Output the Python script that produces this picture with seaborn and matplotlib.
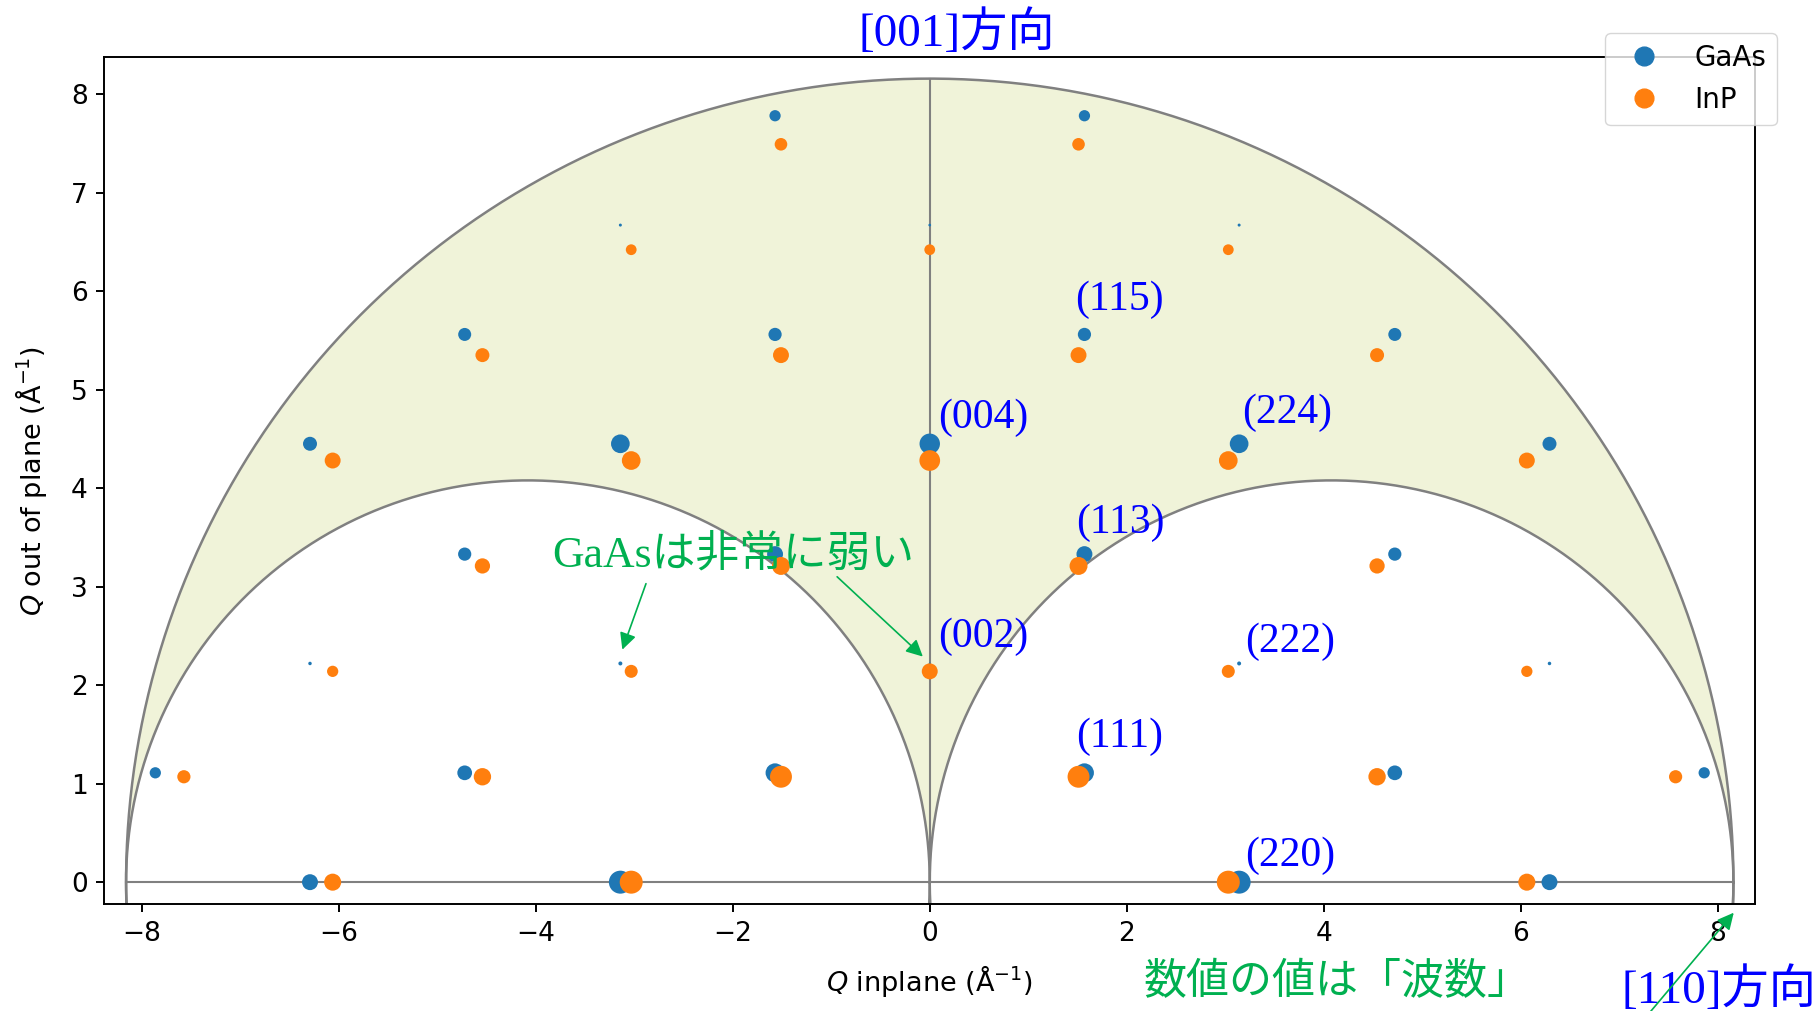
import numpy as np
import pandas as pd
import matplotlib
matplotlib.use("Agg")
import matplotlib.pyplot as plt
from matplotlib.lines import Line2D
import seaborn as sns

# hhl reflections ordered by h = -5..5, then l ascending
# Q inplane / Q out of plane in 1/Å, relative intensity (GaAs 220 = 100)
gaas_qx = [-7.86,
           -6.29, -6.29, -6.29,
           -4.72, -4.72, -4.72,
           -3.14, -3.14, -3.14, -3.14,
           -1.57, -1.57, -1.57, -1.57,
           0.00, 0.00, 0.00,
           1.57, 1.57, 1.57, 1.57,
           3.14, 3.14, 3.14, 3.14,
           4.72, 4.72, 4.72,
           6.29, 6.29, 6.29,
           7.86]
gaas_qz = [1.11,
           0.00, 2.22, 4.45,
           1.11, 3.33, 5.56,
           0.00, 2.22, 4.45, 6.67,
           1.11, 3.33, 5.56, 7.78,
           2.22, 4.45, 6.67,
           1.11, 3.33, 5.56, 7.78,
           0.00, 2.22, 4.45, 6.67,
           1.11, 3.33, 5.56,
           0.00, 2.22, 4.45,
           1.11]
gaas_int = [24,
            48, 2.3, 37,
            41, 33, 32,
            100, 3.0, 66, 1.7,
            68, 48, 33, 24,
            0.8, 79, 1.4,
            68, 48, 33, 24,
            100, 3.0, 66, 1.7,
            41, 33, 32,
            48, 2.3, 37,
            24]

inp_qx = [-7.57,
          -6.06, -6.06, -6.06,
          -4.54, -4.54, -4.54,
          -3.03, -3.03, -3.03, -3.03,
          -1.51, -1.51, -1.51, -1.51,
          0.00, 0.00, 0.00,
          1.51, 1.51, 1.51, 1.51,
          3.03, 3.03, 3.03, 3.03,
          4.54, 4.54, 4.54,
          6.06, 6.06, 6.06,
          7.57]
inp_qz = [1.07,
          0.00, 2.14, 4.28,
          1.07, 3.21, 5.35,
          0.00, 2.14, 4.28, 6.42,
          1.07, 3.21, 5.35, 7.49,
          2.14, 4.28, 6.42,
          1.07, 3.21, 5.35, 7.49,
          0.00, 2.14, 4.28, 6.42,
          1.07, 3.21, 5.35,
          0.00, 2.14, 4.28,
          1.07]
inp_int = [33,
           55, 24, 48,
           57, 44, 37,
           100, 32, 66, 22,
           91, 61, 48, 30,
           48, 81, 22,
           91, 61, 48, 30,
           100, 32, 66, 22,
           57, 44, 37,
           55, 24, 48,
           33]

materials = ["GaAs", "InP"]
colors = {"GaAs": "#1f77b4", "InP": "#ff7f0e"}

# X-ray wavelength (Cu Kα1) defining the accessible region
wavelength = 1.5406
k0 = 2 * np.pi / wavelength

hkl_labels = ["(115)", "(004)", "(224)", "(113)", "(002)", "(222)", "(111)", "(220)"]
hkl_pos = [(1.48, 5.91), (0.09, 4.71), (3.17, 4.77), (1.49, 3.65),
           (0.09, 2.49), (3.20, 2.44), (1.49, 1.48), (3.20, 0.27)]

df = pd.concat([
    pd.DataFrame({"qx": gaas_qx, "qz": gaas_qz, "I": gaas_int, "material": "GaAs"}),
    pd.DataFrame({"qx": inp_qx, "qz": inp_qz, "I": inp_int, "material": "InP"}),
], ignore_index=True)

plt.rcParams.update({
    "font.family": ["DejaVu Sans"],
    "font.size": 19,
    "axes.linewidth": 1.4,
    "xtick.major.size": 6,
    "ytick.major.size": 6,
    "xtick.major.width": 1.4,
    "ytick.major.width": 1.4,
    "xtick.major.pad": 6,
    "ytick.major.pad": 6,
    "mathtext.fontset": "dejavusans",
})

fig = plt.figure(figsize=(18.2, 10.11), dpi=100)
ax = fig.add_axes([0.0574, 0.1058, 0.9069, 0.8378])

# accessible region: inside 2k0 circle, outside both k0 circles
xs = np.linspace(-2 * k0, 2 * k0, 2001)
upper = np.sqrt(np.clip((2 * k0) ** 2 - xs ** 2, 0, None))
lower = np.sqrt(np.clip(k0 ** 2 - (np.abs(xs) - k0) ** 2, 0, None))
ax.fill_between(xs, lower, upper, color="#f0f3d9", lw=0, zorder=0)

t = np.linspace(0, 2 * np.pi, 1000)
line_kw = dict(color="gray", lw=1.8, zorder=1)
ax.plot(2 * k0 * np.cos(t), 2 * k0 * np.sin(t), **line_kw)
ax.plot(k0 + k0 * np.cos(t), k0 * np.sin(t), **line_kw)
ax.plot(-k0 + k0 * np.cos(t), k0 * np.sin(t), **line_kw)
ax.plot([-2 * k0, 2 * k0], [0, 0], color="gray", lw=1.5, zorder=1)
ax.plot([0, 0], [0, 2 * k0], color="gray", lw=1.5, zorder=1)

sns.scatterplot(data=df, x="qx", y="qz", hue="material", palette=colors,
                size="I", sizes=(0, 274), size_norm=(0, 100),
                linewidth=0, edgecolor="none", legend=False, ax=ax, zorder=3)

ax.set_xlim(-8.376, 8.376)
ax.set_ylim(-0.222, 8.376)
ax.set_xticks(np.arange(-8, 9, 2))
ax.set_yticks(np.arange(0, 9, 1))
ax.set_xlabel(r"$Q$ inplane (Å$^{-1}$)", fontsize=19.5, labelpad=12)
ax.set_ylabel(r"$Q$ out of plane (Å$^{-1}$)", fontsize=19.5, labelpad=16)
ax.tick_params(labelsize=19)

handles = [Line2D([], [], ls="", marker="o", markersize=13.5, color=colors[m]) for m in materials]
ax.legend(handles, materials, loc="upper right", fontsize=20,
          bbox_to_anchor=(1777 / 1820, 1 - 33 / 1011), bbox_transform=fig.transFigure,
          borderaxespad=0)

serif_jp = ["Liberation Serif", "Noto Sans CJK JP"]
blue = "#0000ff"
green = "#00b050"

for lab, (x, y) in zip(hkl_labels, hkl_pos):
    ax.text(x, y, lab, color=blue, fontsize=30, family=serif_jp, ha="left", va="center", zorder=5)

ax.text(-0.72, 8.62, "[001]方向", color=blue, fontsize=34, family=serif_jp,
        ha="left", va="center", clip_on=False)
ax.text(7.02, -1.10, "[110]方向", color=blue, fontsize=34, family=serif_jp,
        ha="left", va="center", clip_on=False)
ax.text(-3.83, 3.32, "GaAsは非常に弱い", color=green, fontsize=31.5, family=serif_jp,
        ha="left", va="center", zorder=5)
ax.text(2.17, -1.02, "数値の値は「波数」", color=green, fontsize=31, family=serif_jp,
        ha="left", va="center", clip_on=False)

arrow_kw = dict(arrowstyle="-|>", color=green, lw=1.2, mutation_scale=25, shrinkA=0, shrinkB=0)
for start, end in [((-2.88, 3.03), (-3.12, 2.36)),
                   ((-0.94, 3.10), (-0.07, 2.29)),
                   ((7.31, -1.32), (8.16, -0.31))]:
    ax.annotate("", xy=end, xytext=start, arrowprops=arrow_kw, annotation_clip=False, zorder=6)

fig.savefig("out.png", dpi=100)
